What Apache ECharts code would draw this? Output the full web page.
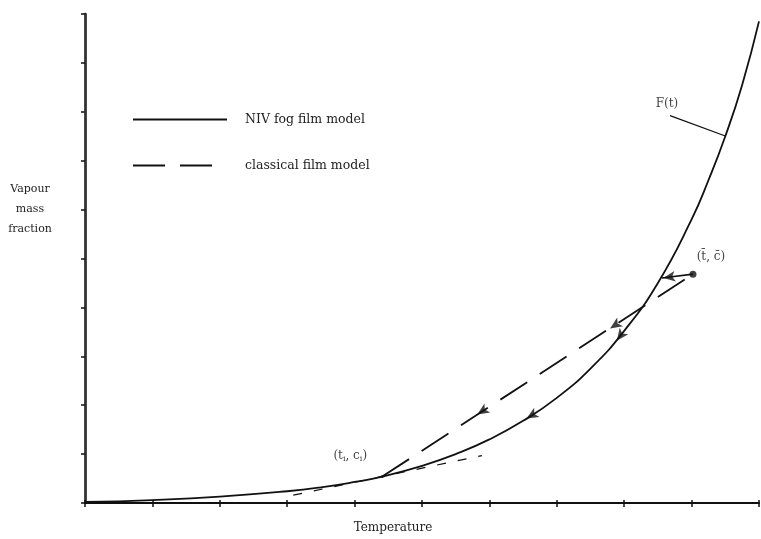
<!DOCTYPE html>
<html>
<head>
<meta charset="utf-8">
<script src="https://cdn.jsdelivr.net/npm/echarts@6/dist/echarts.min.js"></script>
<style>html,body{margin:0;padding:0;background:#fff}#c{width:761px;height:539px}</style>
</head>
<body>
<div id="c"></div>
<script>
// F(t) curve (NIV fog film model), in axis units (10 divisions each axis)
var fX = [0, 1, 2, 3, 3.5, 4, 4.41, 5, 5.5, 6, 6.5, 7, 7.5, 8, 8.5, 9, 9.25, 9.5, 9.75, 10];
var fY = [0.02, 0.06, 0.13, 0.24, 0.32, 0.43, 0.54, 0.76, 1.0, 1.3, 1.68, 2.15, 2.75, 3.52, 4.5, 5.8, 6.6, 7.5, 8.55, 9.85];
// interface point (t_i, c_i) and bulk point (t-bar, c-bar)
var interfacePt = [4.41, 0.54];
var bulkPt = [9.02, 4.68];
// classical film model straight line
var classicalX = [4.41, 9.02];
var classicalY = [0.54, 4.68];
// tangent at interface
var tangentX = [3.09, 5.89];
var tangentY = [0.16, 0.97];
// short segment from bulk point to curve
var connectX = [9.02, 8.56];
var connectY = [4.68, 4.6];
// leader line for F(t) label
var leaderX = [8.68, 9.51];
var leaderY = [7.92, 7.5];
// arrowheads: x, y, rotation
var arrowX = [6.55, 7.89, 5.82, 7.79, 8.58];
var arrowY = [1.73, 3.32, 1.81, 3.57, 4.6];
var arrowRot = [120, 143, 123, 123, 99];

function pts(xs, ys){ return xs.map(function(x,i){ return [x, ys[i]]; }); }
var FONT = 'DejaVu Serif';
var chart = echarts.init(document.getElementById('c'), null, {renderer:'canvas'});
var axisLineStyle = {color:'#111', width:2};
chart.setOption({
  animation:false,
  backgroundColor:'#fff',
  grid:{left:85, right:2, top:14, bottom:29},
  title:{text:'Vapour\nmass\nfraction', left:25, top:174, textAlign:'center',
    textStyle:{fontFamily:FONT, fontSize:11, fontWeight:'normal', color:'#222', lineHeight:20}},
  legend:{data:['NIV fog film model','classical film model'], orient:'vertical', left:132, top:113, padding:0,
    itemWidth:94, itemHeight:14, itemGap:33,
    itemStyle:{opacity:0, borderWidth:0},
    textStyle:{fontFamily:FONT, fontSize:12.5, color:'#222', padding:[0,0,0,13]}},
  xAxis:[
    {type:'value', min:0, max:10, interval:1, position:'bottom',
     name:'Temperature', nameLocation:'middle', nameGap:19,
     nameTextStyle:{fontFamily:FONT, fontSize:12, color:'#222', padding:[0,58,0,0]},
     axisLine:{show:true, lineStyle:axisLineStyle}, axisTick:{show:true, inside:false, length:4, lineStyle:{color:'#111', width:1.5}},
     axisLabel:{show:false}, splitLine:{show:false}},
    {type:'value', min:0, max:10, interval:1, position:'top',
     axisLine:{show:true, lineStyle:{color:'#111', width:1.5}}, axisTick:{show:true, inside:false, length:3, lineStyle:{color:'#111', width:1.5}},
     axisLabel:{show:false}, splitLine:{show:false}}
  ],
  yAxis:[
    {type:'value', min:0, max:10, interval:1, position:'left',
     axisLine:{show:true, lineStyle:{color:'#111', width:2.5}}, axisTick:{show:true, inside:false, length:4, lineStyle:{color:'#111', width:1.5}},
     axisLabel:{show:false}, splitLine:{show:false}},
    {type:'value', min:0, max:10, interval:1, position:'right',
     axisLine:{show:true, lineStyle:{color:'#333', width:1.2}}, axisTick:{show:false},
     axisLabel:{show:false}, splitLine:{show:false}}
  ],
  series:[
    {name:'NIV fog film model', type:'line', data:pts(fX,fY), smooth:0.5,
     symbol:'none', lineStyle:{color:'#111', width:1.8}, itemStyle:{color:'#111'}, z:3},
    {name:'classical film model', type:'line', data:pts(classicalX,classicalY),
     symbol:'none', lineStyle:{color:'#111', width:1.8, type:[32,15]}, itemStyle:{color:'#111'}, z:3},
    {name:'tangent', type:'line', data:pts(tangentX,tangentY),
     symbol:'none', lineStyle:{color:'#111', width:1.2, type:[9,12]}, z:3},
    {name:'connect', type:'line', data:pts(connectX,connectY),
     symbol:'none', lineStyle:{color:'#111', width:1.6}, z:3},
    {name:'leader', type:'line', data:pts(leaderX,leaderY),
     symbol:'none', lineStyle:{color:'#111', width:1.3}, z:3},
    {name:'labelF', type:'scatter', symbolSize:1, itemStyle:{color:'transparent'},
     data:[{value:[leaderX[0], leaderY[0]], label:{show:true, formatter:'F(t)', position:'inside', offset:[-3,-12],
          fontFamily:FONT, fontSize:12, color:'#111'}}], z:4},
    {name:'arrows', type:'scatter', symbol:'arrow', symbolSize:[8,12],
     data:arrowX.map(function(x,i){ return {value:[x,arrowY[i]], symbolRotate:arrowRot[i]}; }),
     itemStyle:{color:'#111'}, z:4},
    {name:'bulk', type:'scatter', symbol:'circle', symbolSize:7,
     data:[{value:bulkPt, label:{show:true, formatter:'(t\u0304, c\u0304)', position:'inside', offset:[18,-17],
        fontFamily:FONT, fontSize:12, color:'#111'}}],
     itemStyle:{color:'#111'}, z:4},
    {name:'interface', type:'scatter', symbol:'circle', symbolSize:3,
     data:[{value:interfacePt, label:{show:true, position:'inside', offset:[-32,-21],
        formatter:'(t{s|i}, c{s|i})', fontFamily:FONT, fontSize:12, color:'#111',
        rich:{s:{fontFamily:FONT, fontSize:8, color:'#111', verticalAlign:'bottom', padding:[6,0,0,0]}}}}],
     itemStyle:{color:'#111'}, z:4}
  ]
});
</script>
</body>
</html>
